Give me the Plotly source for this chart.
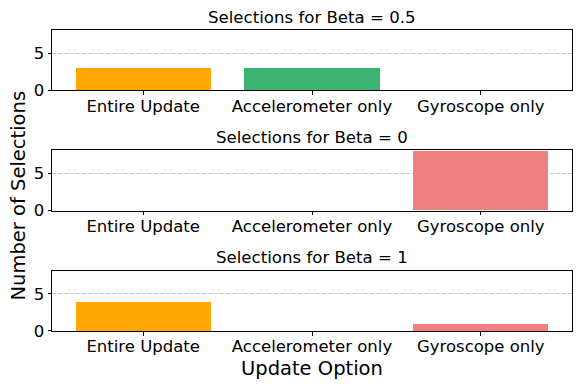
import plotly.graph_objects as go
from plotly.subplots import make_subplots

categories = ["Entire Update", "Accelerometer only", "Gyroscope only"]
betas = ["0.5", "0", "1"]
values_beta_05 = [3, 3, 0]
values_beta_0 = [0, 0, 8]
values_beta_1 = [4, 0, 1]
colors = ["#FFA500", "#3CB371", "#F08080"]

series = [values_beta_05, values_beta_0, values_beta_1]

# page body has an 8px margin, so the figure is drawn 8px in from the corner
W, H = 573, 382
L, R, T, B = 44, 9, 22, 59
ph = H - T - B

fig = make_subplots(rows=3, cols=1, vertical_spacing=60 / ph)

for i, vals in enumerate(series):
    fig.add_trace(
        go.Bar(x=[0, 1, 2], y=vals, marker=dict(color=colors, line=dict(width=0)),
               width=0.8, showlegend=False, hoverinfo="x+y"),
        row=i + 1, col=1,
    )
    fig.update_xaxes(
        range=[-0.54, 2.54], tickvals=[0, 1, 2], ticktext=categories,
        showline=True, linecolor="black", linewidth=1, mirror=True,
        ticks="outside", ticklen=3.5, tickcolor="black", showgrid=False,
        zeroline=False, tickfont=dict(size=16.5, color="black"), automargin=False,
        ticklabelstandoff=-3,
        row=i + 1, col=1,
    )
    fig.update_yaxes(
        range=[0, 8.1], tickvals=[0, 5],
        showline=True, linecolor="black", linewidth=1, mirror=True,
        ticks="outside", ticklen=3.5, tickcolor="black",
        showgrid=True, gridcolor="#c8c8c8", griddash="4px,2px", gridwidth=1,
        zeroline=False, tickfont=dict(size=16.5, color="black"), automargin=False,
        row=i + 1, col=1,
    )

# subplot titles
for i, b in enumerate(betas):
    dom = fig.layout[f"yaxis{'' if i == 0 else i + 1}"].domain
    fig.add_annotation(
        text=f"Selections for Beta = {b}", x=0.5, y=dom[1], xref="paper", yref="paper",
        yshift=13, xanchor="center", yanchor="middle", showarrow=False,
        font=dict(size=16.6, color="black"),
    )

fig.add_annotation(text="Update Option", x=0.5, y=0, xref="paper", yref="paper",
                   yshift=-37, xanchor="center", yanchor="middle", showarrow=False,
                   font=dict(size=19.5, color="black"))
fig.add_annotation(text="Number of Selections", x=0, y=0.5, xref="paper", yref="paper",
                   xshift=-34, yshift=-15, xanchor="center", yanchor="middle", textangle=-90,
                   showarrow=False, font=dict(size=19.5, color="black"))

fig.update_layout(
    width=W, height=H,
    margin=dict(l=L, r=R, t=T, b=B, autoexpand=False),
    plot_bgcolor="white", paper_bgcolor="white",
    font=dict(family="DejaVu Sans", color="black"),
    bargap=0,
)

fig.write_html("out.html")
